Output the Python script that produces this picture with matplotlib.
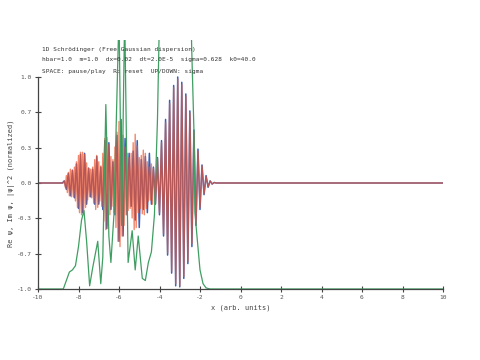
import numpy as np
import matplotlib
matplotlib.use("Agg")
import matplotlib.pyplot as plt

# ---------------- data ----------------
# Re(psi) extrema (alternating sign), x every 0.1 starting at -8.7
re_start = -8.7
re_step = 0.1
re_vals = [0.02, -0.06, 0.09, -0.12, 0.12, -0.14, 0.18, -0.24, 0.27, -0.28,
           0.28, -0.20, 0.14, -0.13, 0.13, -0.20, 0.25, -0.20, 0.15, -0.25,
           0.40, -0.43, 0.38, -0.25, 0.20, -0.30, 0.45, -0.55, 0.60, -0.50,
           0.42, -0.30, 0.28, -0.22, 0.30, -0.35, 0.40, -0.42, 0.22, -0.25,
           0.25, -0.28, 0.28, -0.20, 0.15, -0.20, 0.24, -0.30, 0.40, -0.50,
           0.60, -0.68, 0.78, -0.85, 0.92, -0.97, 1.00, -0.98, 0.95, -0.90,
           0.84, -0.76, 0.68, -0.60, 0.50, -0.40, 0.32, -0.25, 0.17, -0.11,
           0.07, -0.04, 0.02, -0.01, 0.005]

# Im(psi) extrema in the dispersed tail, x every 0.05 starting at -8.7
im_left_start = -8.7
im_left_step = 0.05
im_left_vals = [0.02, -0.04, 0.07, -0.09, 0.10, -0.12, 0.13, -0.13, 0.12, -0.13,
                0.15, -0.17, 0.20, -0.23, 0.26, -0.28, 0.29, -0.30, 0.29, -0.28,
                0.27, -0.23, 0.19, -0.16, 0.14, -0.13, 0.13, -0.14, 0.15, -0.19,
                0.22, -0.25, 0.26, -0.23, 0.20, -0.17, 0.16, -0.22, 0.28, -0.36,
                0.42, -0.44, 0.43, -0.40, 0.36, -0.30, 0.25, -0.22, 0.22, -0.28,
                0.34, -0.42, 0.48, -0.55, 0.58, -0.60, 0.56, -0.50, 0.45, -0.40,
                0.34, -0.30, 0.28, -0.26, 0.24, -0.24, 0.28, -0.33, 0.38, -0.44,
                0.46, -0.42, 0.35, -0.28, 0.24, -0.24, 0.26, -0.29, 0.31, -0.30,
                0.28, -0.24, 0.20, -0.17, 0.15, -0.16, 0.18, -0.20]
# Im(psi) extrema in the main packet, x every 0.1 starting at -4.3
im_right_start = -4.3
im_right_step = 0.1
im_right_vals = [0.14, -0.19, 0.23, -0.28, 0.38, -0.48, 0.57, -0.66, 0.75, -0.83,
                 0.90, -0.95, 0.98, -0.97, 0.93, -0.88, 0.82, -0.74, 0.66, -0.57,
                 0.48, -0.39, 0.30, -0.23, 0.16, -0.10, 0.06, -0.035, 0.018, -0.009,
                 0.004]

# |psi|^2 (normalized) curve
pd_x = [-10, -8.75, -8.6, -8.45, -8.3, -8.15, -8.0, -7.85, -7.73, -7.6, -7.45,
        -7.3, -7.05, -6.9, -6.8, -6.65, -6.5, -6.4, -6.25, -6.0, -5.87, -5.72,
        -5.55, -5.35, -5.2, -5.05, -4.85, -4.7, -4.55, -4.4, -4.25, -4.1, -4.0,
        -2.45, -2.4, -2.3, -2.25, -2.15, -2.0, -1.85, -1.7, -1.5, 10]
pd_y = [-1, -1, -0.92, -0.84, -0.82, -0.78, -0.6, -0.35, -0.26, -0.55, -0.97,
        -0.8, -0.55, -0.95, -0.7, 0.74, -0.5, -0.75, -0.3, 1.6, -0.4, 1.6,
        -0.75, -0.45, -0.82, -0.5, -0.9, -0.92, -0.75, -0.65, -0.3, 0.6, 1.6,
        1.6, 1.2, 0.5, -0.28, -0.5, -0.82, -0.95, -0.99, -1, -1]

xticks = [-10, -8, -6, -4, -2, 0, 2, 4, 6, 8, 10]
yticks = [-1.0, -2/3, -1/3, 0.0, 1/3, 2/3, 1.0]

title_lines = ["1D Schrödinger (Free Gaussian dispersion)",
               "hbar=1.0  m=1.0  dx=0.02  dt=2.0E-5  sigma=0.628  k0=40.0",
               "SPACE: pause/play  R: reset  UP/DOWN: sigma"]

# ---------------- plot ----------------
fig = plt.figure(figsize=(4.8, 3.6), dpi=100)
ax = fig.add_axes([38/480, 1-289/360, (443-38)/480, (289-40)/360])

re_x = ([-10, re_start - re_step]
        + [re_start + i*re_step for i in range(len(re_vals))]
        + [re_start + len(re_vals)*re_step, 10])
re_y = [0, 0] + re_vals + [0, 0]
im_x = ([-10, im_left_start - im_left_step]
        + [im_left_start + i*im_left_step for i in range(len(im_left_vals))]
        + [im_right_start + i*im_right_step for i in range(len(im_right_vals))]
        + [im_right_start + len(im_right_vals)*im_right_step, 10])
im_y = [0, 0] + im_left_vals + im_right_vals + [0, 0]

ax.plot(re_x, re_y, color="#3b5fb5", lw=1.1)
ax.plot(im_x, im_y, color="#ec5630", lw=1.0, alpha=0.7)
ax.plot(pd_x, pd_y, color="#3f9e62", lw=0.9)

ax.set_xlim(-10, 10)
ax.set_ylim(-1, 1 + (77-40)/106)
for s in ["top", "right"]:
    ax.spines[s].set_visible(False)
for s in ["left", "bottom"]:
    ax.spines[s].set_color("#444444")
    ax.spines[s].set_linewidth(0.9)
ax.spines["left"].set_bounds(-1, 1)
ax.set_xticks(xticks)
ax.set_xticklabels([str(t) for t in xticks])
ax.set_yticks(yticks)
ax.set_yticklabels(["%.1f" % t for t in yticks])
ax.tick_params(direction="inout", length=5, width=0.8, color="#444444",
               labelsize=4.5, labelcolor="#555555", pad=2)
for lab in ax.get_xticklabels() + ax.get_yticklabels():
    lab.set_family("DejaVu Sans Mono")

ax.set_xlabel("x (arb. units)", fontsize=5, family="DejaVu Sans Mono", color="#444444", labelpad=3)
ax.set_ylabel("Re ψ, Im ψ, |ψ|^2 (normalized)", fontsize=5, family="DejaVu Sans Mono",
              color="#444444")
ax.yaxis.set_label_coords(-23/405, (289-183)/249)

for i, t in enumerate(title_lines):
    fig.text(42/480, 1 - (49 + 11*i)/360, t, fontsize=4.4, family="DejaVu Sans Mono",
             color="#333333", va="center", ha="left")

fig.savefig("out.png", dpi=100)
